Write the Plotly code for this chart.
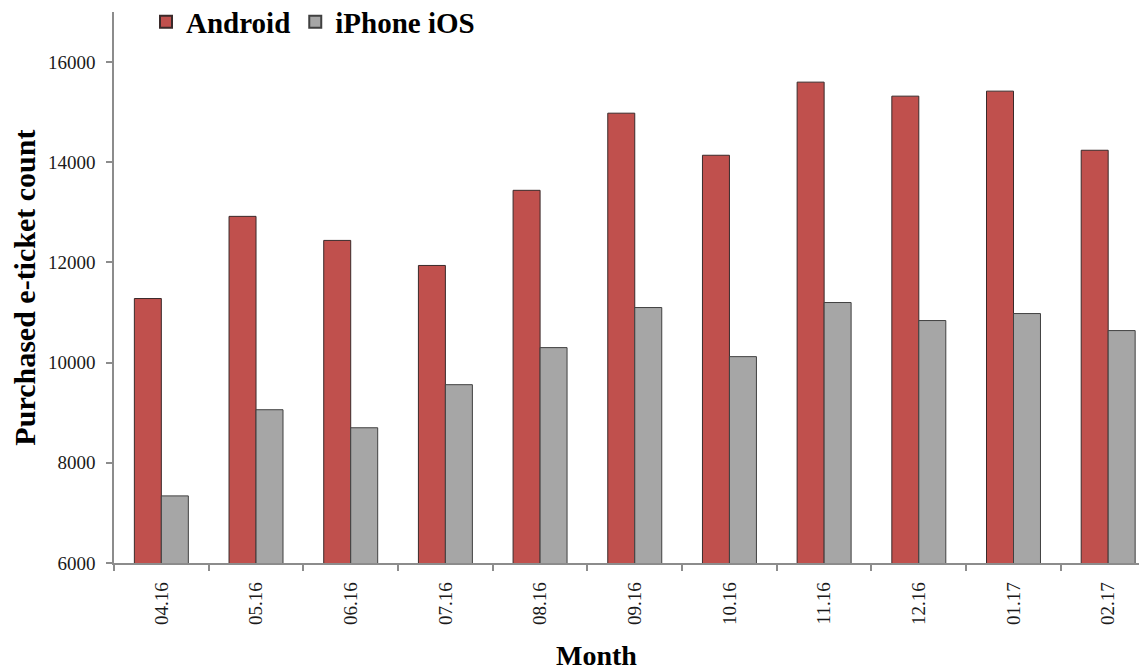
import plotly.graph_objects as go

months = ["04.16", "05.16", "06.16", "07.16", "08.16", "09.16",
          "10.16", "11.16", "12.16", "01.17", "02.17"]
android = [11280, 12920, 12440, 11940, 13440, 14980, 14140, 15600, 15320, 15420, 14240]
ios = [7340, 9060, 8700, 9560, 10300, 11100, 10120, 11200, 10840, 10980, 10640]
y_ticks = [6000, 8000, 10000, 12000, 14000, 16000]

FONT = "Liberation Serif, Times New Roman, serif"
AXIS_COLOR = "#8c8c8c"

fig = go.Figure()
fig.add_trace(go.Bar(
    x=months, y=android, name="Android",
    marker=dict(color="#C0504D", line=dict(color="#3a2a2a", width=1)),
))
fig.add_trace(go.Bar(
    x=months, y=ios, name="iPhone iOS",
    marker=dict(color="#A6A6A6", line=dict(color="#404040", width=1)),
))

# the page body adds an 8px offset, so the figure is sized to the remaining view
fig.update_layout(
    width=1139, height=662,
    margin=dict(l=106, r=0, t=4, b=107, autoexpand=False),
    paper_bgcolor="white", plot_bgcolor="white",
    barmode="group", bargap=0.43, bargroupgap=0,
    font=dict(family=FONT, color="#1a1a1a"),
    showlegend=True,
    legend=dict(
        orientation="h", x=0.031, y=0.982, xanchor="left", yanchor="middle",
        font=dict(family=FONT, size=29, color="black", weight="bold"),
        bgcolor="rgba(0,0,0,0)",
        itemsizing="constant",
    ),
    xaxis=dict(
        type="category", range=[-0.5, 10.41], automargin=False,
        showline=True, linecolor=AXIS_COLOR, linewidth=1.5,
        ticks="outside", tickson="boundaries", ticklen=6, tickcolor=AXIS_COLOR, tickwidth=1.5,
        tickangle=-90, tickfont=dict(family=FONT, size=19, color="#1a1a1a"),
        ticklabelstandoff=10,
        showgrid=False, zeroline=False,
    ),
    yaxis=dict(
        range=[6000, 17000], tickvals=y_ticks, tickformat="d", automargin=False,
        showline=True, linecolor=AXIS_COLOR, linewidth=1.5,
        ticks="outside", ticklen=6, tickcolor=AXIS_COLOR, tickwidth=1.5,
        tickfont=dict(family=FONT, size=19, color="#1a1a1a"),
        ticklabelstandoff=7,
        showgrid=False, zeroline=False,
    ),
    annotations=[
        dict(text="<b>Purchased e-ticket count</b>", textangle=-90,
             xref="paper", yref="paper", x=-0.087, y=0.5,
             xanchor="center", yanchor="middle", showarrow=False, borderpad=0,
             font=dict(family=FONT, size=30, color="black")),
        dict(text="<b>Month</b>",
             xref="paper", yref="paper", x=0.467, y=-0.168,
             xanchor="center", yanchor="middle", showarrow=False, borderpad=0,
             font=dict(family=FONT, size=28, color="black")),
    ],
)

fig.write_html("out.html")
